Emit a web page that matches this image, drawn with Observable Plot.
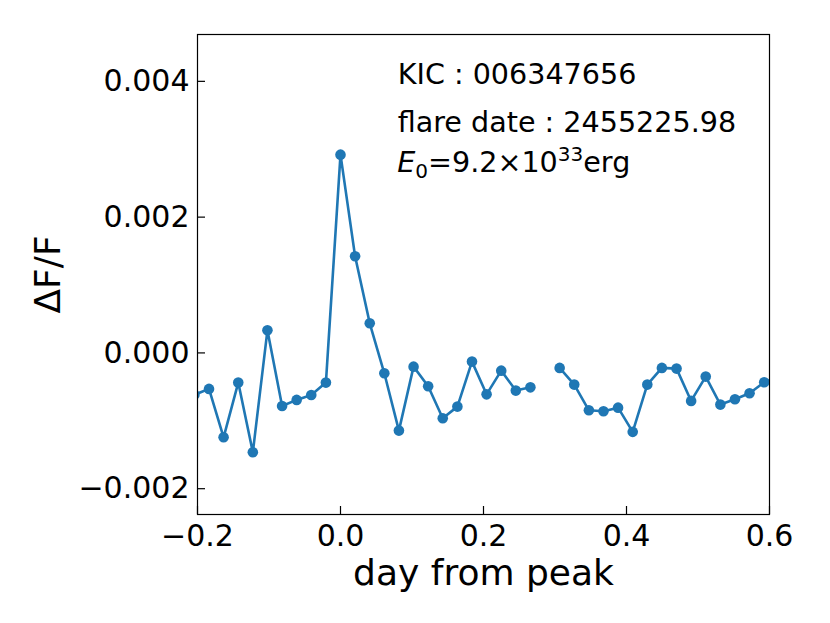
<!DOCTYPE html>
<html>
<head>
<meta charset="utf-8">
<script src="https://cdn.jsdelivr.net/npm/d3@7"></script>
<script src="https://cdn.jsdelivr.net/npm/@observablehq/plot@0.6"></script>
<style>
  html, body { margin: 0; padding: 0; background: #fff; }
  svg { font-family: "DejaVu Sans", sans-serif; }
</style>
</head>
<body>
<div id="chart"></div>
<script>
// day from peak (Kepler long cadence)
const days = [-0.2043, -0.1839, -0.1635, -0.1430, -0.1226, -0.1022, -0.0817, -0.0613, -0.0409, -0.0204,
  0.0000, 0.0204, 0.0409, 0.0613, 0.0817, 0.1022, 0.1226, 0.1430, 0.1635, 0.1839,
  0.2043, 0.2248, 0.2452, 0.2656, 0.2861, 0.3065, 0.3269, 0.3474, 0.3678, 0.3882,
  0.4087, 0.4291, 0.4495, 0.4700, 0.4904, 0.5108, 0.5313, 0.5517, 0.5721, 0.5926, 0.6130];
// ΔF/F (NaN = missing cadence)
const dff = [-0.000617, -0.000530, -0.001243, -0.000437, -0.001464, 0.000333, -0.000781, -0.000692, -0.000619, -0.000437,
  0.002920, 0.001423, 0.000436, -0.000300, -0.001144, -0.000202, -0.000492, -0.000963, -0.000791, -0.000128,
  -0.000610, -0.000261, -0.000555, -0.000507, NaN, -0.000221, -0.000467, -0.000845, -0.000860, -0.000806,
  -0.001163, -0.000467, -0.000221, -0.000231, -0.000707, -0.000349, -0.000761, -0.000683, -0.000595, -0.000433, -0.000350];

const xTicks = [-0.2, 0.0, 0.2, 0.4, 0.6];
const yTicks = [-0.002, 0.000, 0.002, 0.004];
const xDomain = [-0.2, 0.6];
const yDomain = [-0.00238, 0.00469];

// annotation (data coordinates)
const annX = 0.080;
const annLines = ["KIC : 006347656", "flare date : 2455225.98"];
const annY = [0.003962, 0.003255];
const e0Y = 0.002655;
const e0Parts = {sym: "E", sub: "0", mid: "=9.2×10", sup: "33", end: "erg"};

const data = days.map((d, i) => ({x: d, y: dff[i]}));
const ann = annLines.map((t, i) => ({x: annX, y: annY[i], t}));
const color = "#1f77b4";
const fs = 28.6;

const plot = Plot.plot({
  width: 830,
  height: 623,
  marginLeft: 197,
  marginRight: 61,
  marginTop: 34,
  marginBottom: 109,
  style: {fontFamily: "DejaVu Sans, sans-serif", background: "#fff", overflow: "visible"},
  x: {domain: xDomain},
  y: {domain: yDomain},
  marks: [
    Plot.line(data, {x: "x", y: "y", stroke: color, strokeWidth: 2.6, clip: true}),
    Plot.dot(data.filter(d => !isNaN(d.y)), {x: "x", y: "y", r: 5.3, fill: color, stroke: "none", clip: true}),
    Plot.frame({stroke: "#000", strokeWidth: 1.2}),
    Plot.axisX({ticks: xTicks, tickFormat: d3.format(".1f"), tickSize: -8, tickPadding: 18, fontSize: 30, label: null, stroke: "#000", strokeWidth: 1.2}),
    Plot.axisY({ticks: yTicks, tickFormat: d3.format(".3f"), tickSize: -8, tickPadding: 16, fontSize: 30, label: null, stroke: "#000", strokeWidth: 1.2}),
    Plot.text(["day from peak"], {frameAnchor: "bottom", dy: 70, fontSize: 36, fill: "#000", lineAnchor: "bottom"}),
    Plot.text(["ΔF/F"], {frameAnchor: "left", dx: -149, rotate: -90, textAnchor: "middle", fontSize: 36, fill: "#000"}),
    Plot.text(ann, {x: "x", y: "y", text: "t", textAnchor: "start", lineAnchor: "bottom", fontSize: fs, fill: "#000"}),
    (index, scales) => {
      const g = d3.create("svg:g");
      const t = g.append("text")
        .attr("x", scales.x(annX)).attr("y", scales.y(e0Y))
        .attr("text-anchor", "start")
        .attr("font-size", fs).attr("fill", "#000");
      t.append("tspan").attr("font-style", "italic").text(e0Parts.sym);
      t.append("tspan").attr("font-size", fs * 0.7).attr("dy", 6).text(e0Parts.sub);
      t.append("tspan").attr("dy", -6).text(e0Parts.mid);
      t.append("tspan").attr("font-size", fs * 0.7).attr("dy", -11).text(e0Parts.sup);
      t.append("tspan").attr("dy", 11).text(e0Parts.end);
      return g.node();
    }
  ]
});
document.getElementById("chart").appendChild(plot);
</script>
</body>
</html>
